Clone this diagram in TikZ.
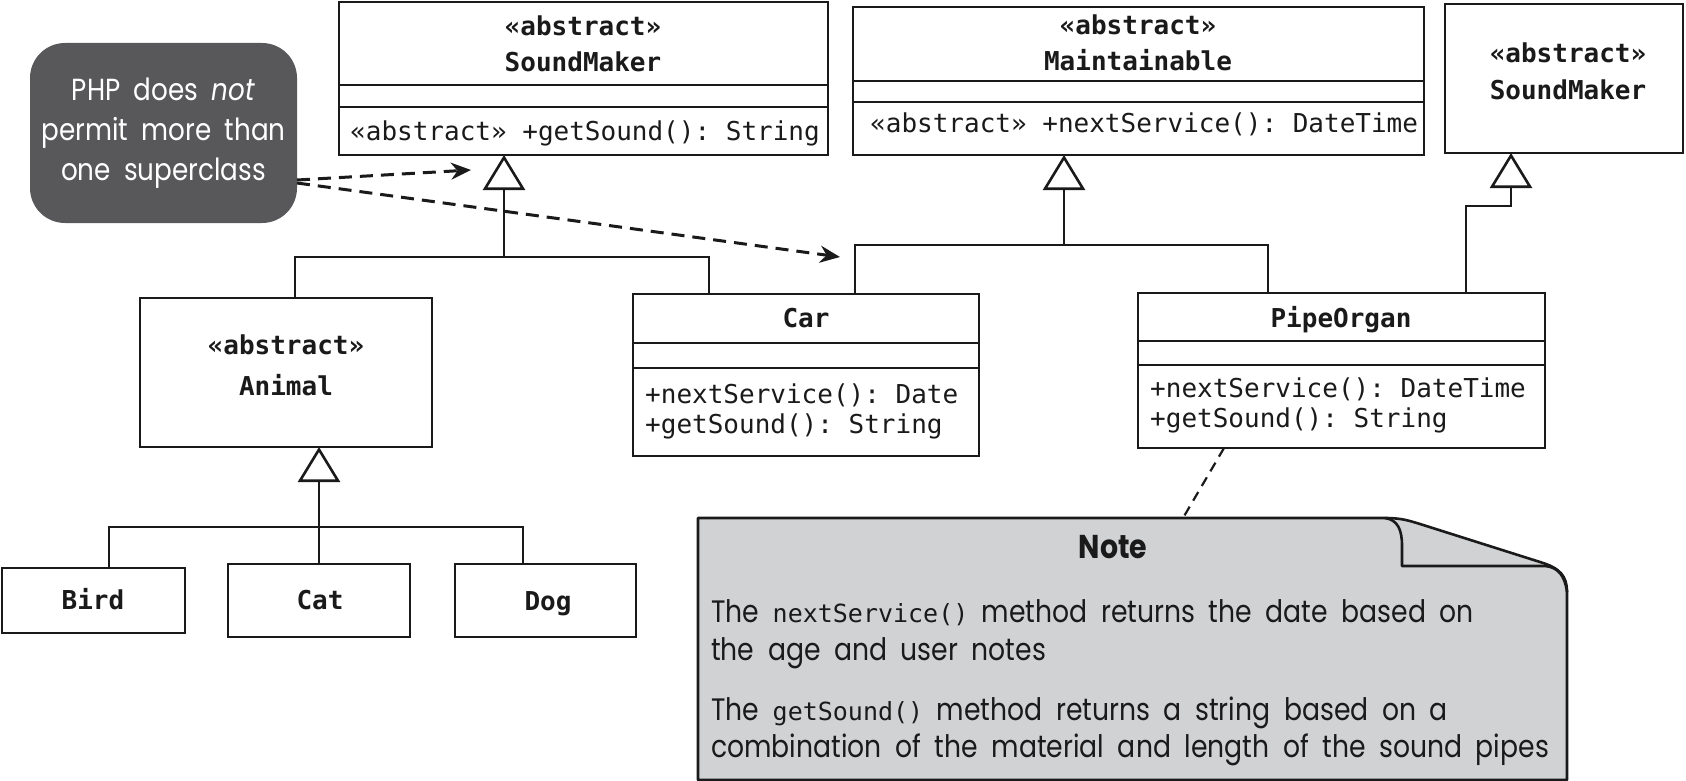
\documentclass[tikz,border=0pt]{standalone}
\usepackage{fontspec}
\setmainfont{Poppins}[FakeStretch=0.86,WordSpace=1.9]
\setmonofont{DejaVu Sans Mono}
\usetikzlibrary{arrows.meta,calc}
\definecolor{calloutgray}{HTML}{58585A}
\definecolor{notegray}{HTML}{D1D2D4}
\definecolor{ink}{HTML}{1A1A1A}
\begin{document}
\begin{tikzpicture}[x=1pt,y=-1pt,
  ln/.style={draw=ink,line width=2.6pt},
  cls/.style={draw=ink,line width=2.6pt,fill=white,inner sep=0pt,outer sep=0pt},
  hdr/.style={font=\fontsize{26}{30}\selectfont\ttfamily\bfseries,text=ink,anchor=base,inner sep=0pt},
  meth/.style={font=\fontsize{26}{30}\selectfont\ttfamily,text=ink,anchor=base west,inner sep=0pt},
  tree/.style={draw=ink,line width=2.6pt},
  inh/.style={draw=ink,line width=2.6pt,-{Triangle[length=35pt,width=42pt,fill=white]}},
  dasharrow/.style={draw=ink,line width=3pt,dash pattern=on 13pt off 8pt,-{Stealth[length=20pt,width=17pt]}},
  notelink/.style={draw=ink,line width=2.2pt,dash pattern=on 10pt off 7pt},
  sans/.style={font=\fontsize{31}{38}\selectfont,text=ink,anchor=base west,inner sep=0pt},
  callout/.style={fill=calloutgray,rounded corners=35pt,inner sep=0pt,outer sep=0pt,text=white,align=center,font=\fontsize{30.5}{40}\selectfont}]
\fill[white] (0,0) rectangle (1686,781);
\useasboundingbox (0,0) rectangle (1686,781);

% ---------- classes ----------
\node[cls,minimum width=489pt,minimum height=153pt] (sm1) at (583.5,78.5) {};
\draw[ln] ($(sm1.north west)+(0,83)$) -- ($(sm1.north east)+(0,83)$);
\draw[ln] ($(sm1.north west)+(0,105)$) -- ($(sm1.north east)+(0,105)$);
\node[hdr] (sm1a) at (583,36) {«abstract»};
\node[hdr] (sm1n) at (583,72) {SoundMaker};
\node[meth] (sm1m) at (350,140) {«abstract» +getSound(): String};

\node[cls,minimum width=571pt,minimum height=148pt] (maint) at (1138.5,81) {};
\draw[ln] ($(maint.north west)+(0,74)$) -- ($(maint.north east)+(0,74)$);
\draw[ln] ($(maint.north west)+(0,95)$) -- ($(maint.north east)+(0,95)$);
\node[hdr] (mta) at (1138,35) {«abstract»};
\node[hdr] (mtn) at (1138,71) {Maintainable};
\node[meth] (mtm) at (870,133) {«abstract» +nextService(): DateTime};

\node[cls,minimum width=238pt,minimum height=149pt] (sm2) at (1564,78.5) {};
\node[hdr] (sm2a) at (1568,63) {«abstract»};
\node[hdr] (sm2n) at (1568,100) {SoundMaker};

\node[cls,minimum width=292pt,minimum height=149pt] (animal) at (286,372.5) {};
\node[hdr] (ana) at (286,354) {«abstract»};
\node[hdr] (ann) at (286,395) {Animal};

\node[cls,minimum width=183pt,minimum height=65pt] (bird) at (93.5,600.5) {};
\node[hdr] (birdn) at (93,609) {Bird};
\node[cls,minimum width=182pt,minimum height=73pt] (cat) at (319,600.5) {};
\node[hdr] (catn) at (320,609) {Cat};
\node[cls,minimum width=181pt,minimum height=73pt] (dog) at (545.5,600.5) {};
\node[hdr] (dogn) at (548,610) {Dog};

\node[cls,minimum width=346pt,minimum height=162pt] (car) at (806,375) {};
\draw[ln] ($(car.north west)+(0,49)$) -- ($(car.north east)+(0,49)$);
\draw[ln] ($(car.north west)+(0,74)$) -- ($(car.north east)+(0,74)$);
\node[hdr] (carn) at (806,327) {Car};
\node[meth] (carm1) at (645,403) {+nextService(): Date};
\node[meth] (carm2) at (645,433) {+getSound(): String};

\node[cls,minimum width=407pt,minimum height=155pt] (pipe) at (1341.5,370.5) {};
\draw[ln] ($(pipe.north west)+(0,48)$) -- ($(pipe.north east)+(0,48)$);
\draw[ln] ($(pipe.north west)+(0,72)$) -- ($(pipe.north east)+(0,72)$);
\node[hdr] (pipen) at (1341,327) {PipeOrgan};
\node[meth] (pipem1) at (1150,397) {+nextService(): DateTime};
\node[meth] (pipem2) at (1150,427) {+getSound(): String};

% ---------- inheritance ----------
\coordinate (j1) at (504,257);
\coordinate (j1a) at (295,257);
\coordinate (j1c) at (709,257);
\draw[tree] (j1a |- animal.north) -- (j1a) -- (j1c) -- (j1c |- car.north);
\draw[inh] (j1) -- (j1 |- sm1.south);

\coordinate (j2) at (319,527);
\coordinate (j2b) at (109,527);
\coordinate (j2d) at (523,527);
\draw[tree] (j2b |- bird.north) -- (j2b) -- (j2d) -- (j2d |- dog.north);
\draw[tree] (j2 |- cat.north) -- (j2);
\draw[inh] (j2) -- (j2 |- animal.south);

\coordinate (j3) at (1064,245);
\coordinate (j3c) at (855,245);
\coordinate (j3p) at (1268,245);
\draw[tree] (j3c |- car.north) -- (j3c) -- (j3p) -- (j3p |- pipe.north);
\draw[inh] (j3) -- (j3 |- maint.south);

\coordinate (j4) at (1511,206);
\coordinate (j4p) at (1466,206);
\draw[inh] (j4p |- pipe.north) -- (j4p) -- (j4) -- (j4 |- sm2.south);

% ---------- callout ----------
\node[callout,minimum width=267pt,minimum height=180pt] (php) at (163.5,133) {PHP does \textit{not}\\permit more than\\one superclass};
\coordinate (t1) at (471,170);
\coordinate (t2) at (840,257);
\draw[dasharrow] ($(php.east)+(0,47)$) -- (t1);
\draw[dasharrow] ($(php.east)+(0,50)$) -- (t2);

% ---------- note ----------
\draw[ln,fill=notegray,line width=2.6pt,line join=round]
  (698,518) -- (1385,518) .. controls (1402,518) and (1410,521) .. (1420,524)
  -- (1540,562) .. controls (1560,568) and (1567,576) .. (1567,592)
  -- (1567,780) -- (698,780) -- cycle;
\draw[ln,line width=2.6pt,line join=round]
  (1385,518) .. controls (1398,520) and (1402,530) .. (1402,546)
  -- (1402,566) -- (1545,566) .. controls (1558,567) and (1565,576) .. (1567,592);
\coordinate (nt) at (1183,518);
\coordinate (pt) at ($(pipe.south west)+(86,0)$);
\draw[notelink] (pt) -- (nt);
\node[font=\fontsize{33}{40}\selectfont\bfseries,text=ink,anchor=base,inner sep=0pt] (notet) at (1113,558) {Note};
\node[sans] (n1) at (711,622) {The {\fontsize{25}{30}\selectfont\ttfamily nextService()} method returns the date based on};
\node[sans] (n2) at (711,660) {the age and user notes};
\node[sans] (n3) at (711,720) {The {\fontsize{25}{30}\selectfont\ttfamily getSound()} method returns a string based on a};
\node[sans] (n4) at (711,757) {combination of the material and length of the sound pipes};
\end{tikzpicture}
\end{document}
